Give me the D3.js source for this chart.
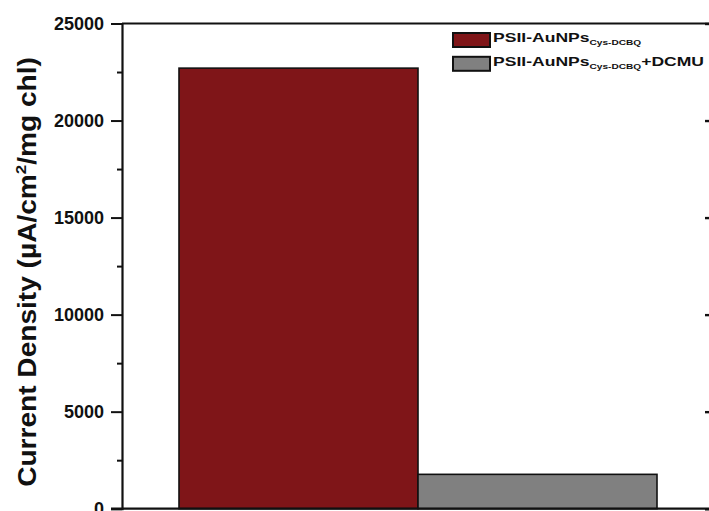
<!DOCTYPE html>
<html>
<head>
<meta charset="utf-8">
<script src="https://cdn.jsdelivr.net/npm/d3@7/dist/d3.min.js"></script>
<style>
  html, body { margin: 0; padding: 0; background: #fff; }
  svg { display: block; font-family: "Liberation Sans", Arial, sans-serif; }
</style>
</head>
<body>
<svg id="chart" width="709" height="511"></svg>
<script>
// Samples and measured current density (µA/cm²/mg chl)
const categories = ["PSII-AuNPs Cys-DCBQ", "PSII-AuNPs Cys-DCBQ + DCMU"];
const values = [22700, 1770];
const colors = ["#7f1518", "#808080"];
const majorTicks = [0, 5000, 10000, 15000, 20000, 25000];
const minorTicks = [2500, 7500, 12500, 17500, 22500];
const legendMain = ["PSII-AuNPs", "PSII-AuNPs"];
const legendSub = ["Cys-DCBQ", "Cys-DCBQ"];
const legendTail = ["", "+DCMU"];

const svg = d3.select("#chart");
const frame = { left: 122, right: 711, top: 23.5, bottom: 508.7 };

const y = d3.scaleLinear().domain([0, 25000]).range([frame.bottom, frame.top]);
const x = d3.scaleBand().domain(categories).range([179, 657]).paddingInner(0).paddingOuter(0);

// Bars
svg.append("g").selectAll("rect")
  .data(categories)
  .join("rect")
  .attr("x", d => x(d))
  .attr("width", x.bandwidth())
  .attr("y", (d, i) => y(values[i]))
  .attr("height", (d, i) => y(0) - y(values[i]))
  .attr("fill", (d, i) => colors[i])
  .attr("stroke", "#111")
  .attr("stroke-width", 1.6);

// Frame: top and bottom lines
svg.append("line")
  .attr("x1", frame.left).attr("x2", frame.right)
  .attr("y1", frame.top).attr("y2", frame.top)
  .attr("stroke", "#111").attr("stroke-width", 2);
svg.append("line")
  .attr("x1", frame.left - 11).attr("x2", frame.right)
  .attr("y1", frame.bottom).attr("y2", frame.bottom)
  .attr("stroke", "#111").attr("stroke-width", 2.2);

// Left axis with major labels
const left = svg.append("g")
  .attr("transform", `translate(${frame.left},0)`)
  .call(d3.axisLeft(y).tickValues(majorTicks).tickSize(11).tickPadding(7).tickFormat(d3.format("d")));
left.select(".domain").attr("stroke", "#111").attr("stroke-width", 2.2);
left.selectAll(".tick line").attr("stroke", "#111").attr("stroke-width", 2);
left.selectAll(".tick text")
  .attr("fill", "#111")
  .style("font-size", "18px")
  .style("font-weight", "bold");

// Left minor ticks
const leftMinor = svg.append("g")
  .attr("transform", `translate(${frame.left},0)`)
  .call(d3.axisLeft(y).tickValues(minorTicks).tickSize(5).tickFormat(""));
leftMinor.select(".domain").remove();
leftMinor.selectAll(".tick line").attr("stroke", "#111").attr("stroke-width", 2);

// Right axis, ticks pointing inward
const right = svg.append("g")
  .attr("transform", `translate(${frame.right},0)`)
  .call(d3.axisRight(y).tickValues(majorTicks).tickSize(-6).tickFormat(""));
right.select(".domain").attr("stroke", "#111").attr("stroke-width", 2);
right.selectAll(".tick line").attr("stroke", "#111").attr("stroke-width", 2.4);

// Y axis title, stretched along its length to span the axis
const titleG = svg.append("g").attr("transform", "translate(36,272) rotate(-90)");
const title = titleG.append("text")
  .attr("text-anchor", "middle")
  .attr("fill", "#111")
  .style("font-size", "25px")
  .style("font-weight", "bold");
title.append("tspan").text("Current Density (\u00b5A/cm");
title.append("tspan").attr("dy", -10).style("font-size", "15px").text("2");
title.append("tspan").attr("dy", 10).text("/mg chl)");
const titleLen = title.node().getBBox().width;
title.attr("transform", `scale(${430 / titleLen},1)`);

// Legend
const legend = svg.append("g").attr("transform", "translate(453,33)");
const rows = legend.selectAll("g").data(categories).join("g")
  .attr("transform", (d, i) => `translate(0,${i * 23.8})`);
rows.append("rect")
  .attr("width", 37).attr("height", 14)
  .attr("fill", (d, i) => colors[i])
  .attr("stroke", "#111").attr("stroke-width", 2);
const lt = rows.append("g").attr("transform", "translate(40,9) scale(1.35,1)")
  .append("text")
  .attr("fill", "#111")
  .style("font-weight", "bold")
  .style("font-size", "13px");
lt.append("tspan").text((d, i) => legendMain[i]);
lt.append("tspan").attr("dy", 3).style("font-size", "7.5px").text((d, i) => legendSub[i]);
lt.append("tspan").attr("dy", -3).text((d, i) => legendTail[i]);
</script>
</body>
</html>
